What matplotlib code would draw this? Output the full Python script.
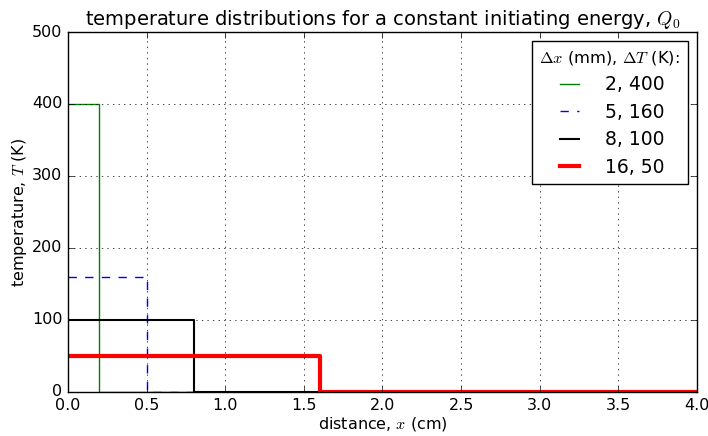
import matplotlib.pyplot as plt
import numpy as np

plt.style.use('classic')

# pulse width (mm) and temperature rise (K) for each case
widths_mm = [2, 5, 8, 16]
temps_K = [400, 160, 100, 50]
colors = ['g', 'b', 'k', 'r']
styles = ['-', '--', '-', '-']
widths_lw = [1, 1, 1.5, 3]

x_max = 4.0

fig = plt.figure(figsize=(7.08, 4.36), dpi=100)
ax = fig.add_axes([0.096, 0.101, 0.8885, 0.8256])

for w, T, c, ls, lw in zip(widths_mm, temps_K, colors, styles, widths_lw):
    edge = w / 10.0  # mm -> cm
    x = [0, edge, edge, x_max]
    y = [T, T, 0, 0]
    ax.plot(x, y, color=c, ls=ls, lw=lw, label='{}, {}'.format(w, T))

ax.set_xlim(0, 4)
ax.set_ylim(0, 500)
ax.grid(True)
ax.tick_params(labelsize=11.5)
ax.set_xlabel('distance, $x$ (cm)', fontsize=11.5, labelpad=2)
ax.set_ylabel('temperature, $T$ (K)', fontsize=11.5, labelpad=2)
ax.set_title('temperature distributions for a constant initiating energy, $Q_0$',
             fontsize=14)
leg = ax.legend(title='$\\Delta x$ (mm), $\\Delta T$ (K):', fontsize=13.5,
                handlelength=1.6, handletextpad=1.1, labelspacing=0.45)
leg.get_title().set_fontsize(11.8)

fig.savefig('out.png', dpi=100)
